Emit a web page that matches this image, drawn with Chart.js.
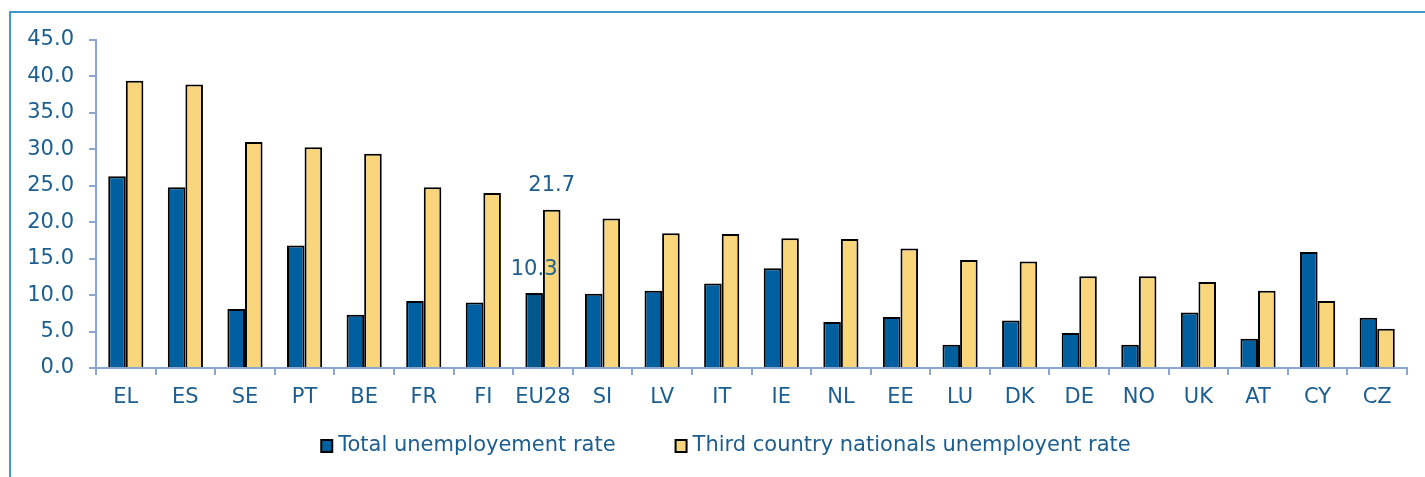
<!DOCTYPE html>
<html>
<head>
<meta charset="utf-8">
<script src="https://cdn.jsdelivr.net/npm/chart.js@4"></script>
<style>
  html, body { margin: 0; padding: 0; background: #fff; }
  #wrap { position: relative; width: 1425px; height: 477px; overflow: hidden; }
  #frame { position: absolute; left: 9px; top: 11px; width: 1440px; height: 500px;
           border-left: 2px solid #3d9bcf; border-top: 2px solid #3d9bcf; box-sizing: border-box; }
  canvas { position: absolute; left: 0; top: 0; }
</style>
</head>
<body>
<div id="wrap">
  <div id="frame"></div>
  <canvas id="c" width="1425" height="477"></canvas>
</div>
<script>
const categories = ["EL","ES","SE","PT","BE","FR","FI","EU28","SI","LV","IT","IE","NL","EE","LU","DK","DE","NO","UK","AT","CY","CZ"];
const totalRate = [26.3,24.8,8.1,16.8,7.3,9.2,9.0,10.3,10.2,10.6,11.6,13.7,6.3,7.0,3.2,6.5,4.8,3.2,7.6,4.0,15.9,6.9];
const tcnRate   = [39.4,38.9,31.0,30.3,29.4,24.8,24.0,21.7,20.5,18.5,18.4,17.8,17.7,16.4,14.8,14.6,12.6,12.6,11.8,10.6,9.2,5.4];
const yTicks = [0,5,10,15,20,25,30,35,40,45];
const labelledCategory = "EU28";

const textColor = '#1c5e8f';
const axisColor = '#8ba6cf';
const blue = '#005f9e';
const yellow = '#f9d57b';
const fontFamily = '"DejaVu Sans", Verdana, sans-serif';
const fontSize = 21;

const labelPlugin = {
  id: 'eulabels',
  afterDatasetsDraw(chart) {
    const ctx = chart.ctx;
    const idx = categories.indexOf(labelledCategory);
    ctx.save();
    ctx.font = fontSize + 'px ' + fontFamily;
    ctx.fillStyle = textColor;
    ctx.textAlign = 'center';
    ctx.textBaseline = 'middle';
    const m0 = chart.getDatasetMeta(0).data[idx];
    const m1 = chart.getDatasetMeta(1).data[idx];
    ctx.fillText(totalRate[idx].toFixed(1), m0.x, m0.y - 23);
    ctx.fillText(tcnRate[idx].toFixed(1), m1.x, m1.y - 24);
    ctx.restore();
  }
};

// Legend drawn below the axis, centred as in the original figure
const legendPlugin = {
  id: 'bottomLegend',
  afterDraw(chart) {
    const ctx = chart.ctx;
    ctx.save();
    ctx.font = fontSize + 'px ' + fontFamily;
    ctx.textBaseline = 'middle';
    ctx.textAlign = 'left';
    const items = chart.data.datasets.map((ds, i) => ({
      text: ds.label, fill: i === 0 ? blue : yellow, w: ctx.measureText(ds.label).width
    }));
    const boxW = 11, boxH = 12, gapText = 6, gapItems = 60, cy = 446, centre = 726;
    const total = items.reduce((a, it) => a + boxW + gapText + it.w, 0) + gapItems * (items.length - 1);
    let x = centre - total / 2;
    items.forEach(it => {
      ctx.fillStyle = it.fill;
      ctx.fillRect(x, cy - boxH / 2, boxW, boxH);
      ctx.lineWidth = 2;
      ctx.strokeStyle = '#000';
      ctx.strokeRect(x, cy - boxH / 2, boxW, boxH);
      ctx.fillStyle = textColor;
      ctx.fillText(it.text, x + boxW + gapText, cy);
      x += boxW + gapText + it.w + gapItems;
    });
    ctx.restore();
  }
};

new Chart(document.getElementById('c'), {
  type: 'bar',
  data: {
    labels: categories,
    datasets: [
      {
        label: 'Total unemployement rate',
        data: totalRate,
        backgroundColor: categories.map(c => c === labelledCategory ? '#00578b' : blue),
        borderColor: '#000000',
        borderWidth: 2,
        borderSkipped: 'bottom',
        categoryPercentage: 0.59,
        barPercentage: 1.0
      },
      {
        label: 'Third country nationals unemployent rate',
        data: tcnRate,
        backgroundColor: yellow,
        borderColor: '#000000',
        borderWidth: 2,
        borderSkipped: 'bottom',
        categoryPercentage: 0.59,
        barPercentage: 1.0
      }
    ]
  },
  options: {
    responsive: false,
    animation: false,
    devicePixelRatio: 1,
    layout: { padding: { top: 40, right: 18, left: 0, bottom: 0 } },
    plugins: {
      tooltip: { enabled: false },
      legend: { display: false }
    },
    scales: {
      x: {
        grid: { display: true, drawOnChartArea: false, drawTicks: true, tickLength: 7, color: axisColor, lineWidth: 2, offset: true },
        border: { display: true, color: axisColor, width: 2 },
        ticks: { color: textColor, font: { family: fontFamily, size: fontSize }, padding: 10, maxRotation: 0, autoSkip: false },
        afterFit(s) { s.height = 109; }
      },
      y: {
        min: 0, max: 45,
        afterBuildTicks(s) { s.ticks = yTicks.map(v => ({ value: v })); },
        grid: { display: true, drawOnChartArea: false, drawTicks: true, tickLength: 7, color: axisColor, lineWidth: 2 },
        border: { display: true, color: axisColor, width: 2 },
        ticks: { color: textColor, font: { family: fontFamily, size: fontSize }, padding: 15, callback: v => Number(v).toFixed(1) },
        afterFit(s) { s.width = 96; }
      }
    }
  },
  plugins: [labelPlugin, legendPlugin]
});
</script>
</body>
</html>
